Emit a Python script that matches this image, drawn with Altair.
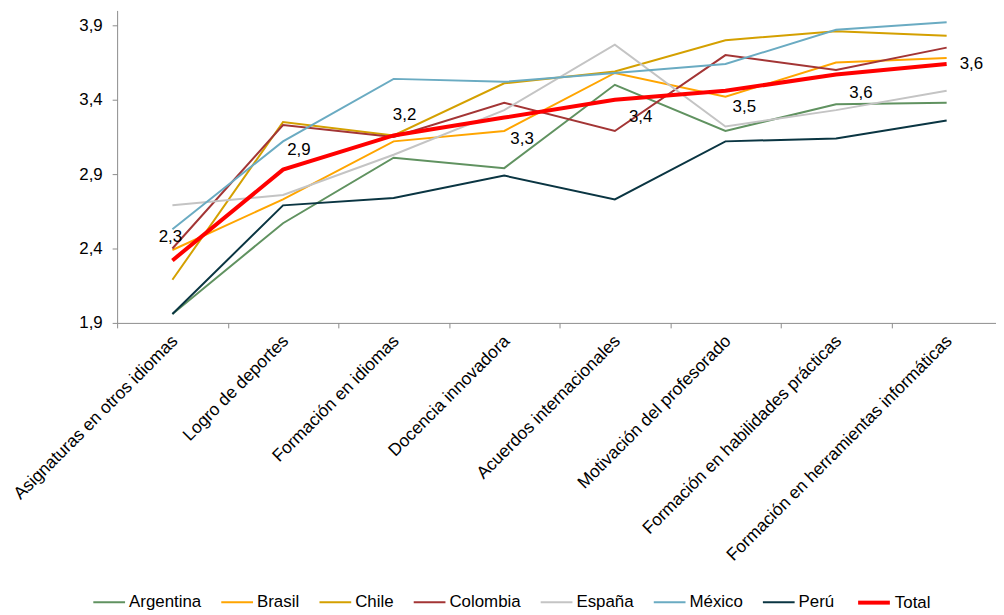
import pandas as pd
import altair as alt

# Categories on the x axis
categorias = [
    "Asignaturas en otros idiomas",
    "Logro de deportes",
    "Formación en idiomas",
    "Docencia innovadora",
    "Acuerdos internacionales",
    "Motivación del profesorado",
    "Formación en habilidades prácticas",
    "Formación en herramientas informáticas",
]

# Values per country
argentina = [1.96, 2.57, 3.01, 2.94, 3.50, 3.19, 3.37, 3.38]
brasil = [2.39, 2.73, 3.12, 3.19, 3.58, 3.42, 3.65, 3.68]
chile = [2.19, 3.25, 3.16, 3.51, 3.59, 3.80, 3.86, 3.83]
colombia = [2.40, 3.23, 3.15, 3.38, 3.19, 3.70, 3.60, 3.75]
espana = [2.69, 2.76, 3.03, 3.33, 3.77, 3.22, 3.33, 3.46]
mexico = [2.53, 3.12, 3.54, 3.52, 3.58, 3.64, 3.87, 3.92]
peru = [1.96, 2.69, 2.74, 2.89, 2.73, 3.12, 3.14, 3.26]
total = [2.32, 2.93, 3.16, 3.28, 3.40, 3.46, 3.57, 3.64]

paises = ["Argentina", "Brasil", "Chile", "Colombia", "España", "México", "Perú", "Total"]
valores = [argentina, brasil, chile, colombia, espana, mexico, peru, total]
y_ticks = [1.9, 2.4, 2.9, 3.4, 3.9]

# Styling
colores = ["#609260", "#FFA500", "#D4A000", "#A33535", "#C4C4C4", "#6AABC2", "#0A3542", "#FF0000"]
grosores = [2, 2, 2, 2, 2, 2, 2, 4]
# offsets of the Total data labels (dx, dy)
label_dx = [-2, 16, 11, 18, 26, 19, 25, 25]
label_dy = [-24, -20, -21, 22, 17, 16, 19, 0]

FONT = "Liberation Sans, Arial, sans-serif"
AXIS_GRAY = "#8C8C8C"

rows = []
for pais, serie in zip(paises, valores):
    for cat, v in zip(categorias, serie):
        rows.append({"Categoria": cat, "Pais": pais, "Valor": v})
df = pd.DataFrame(rows)
df["Etiqueta"] = df["Valor"].map(lambda v: f"{v:.1f}".replace(".", ","))

x_enc = alt.X(
    "Categoria:N",
    sort=categorias,
    scale=alt.Scale(range=[0, 892], paddingInner=0, paddingOuter=0),
    axis=alt.Axis(
        title=None, labelAngle=-45, labelFontSize=17.5, labelFont=FONT,
        labelColor="black", labelLimit=400, tickBand="extent", tickSize=5,
        domainColor=AXIS_GRAY, tickColor=AXIS_GRAY, labelPadding=4,
        labelOffset=-4,
    ),
)
y_enc = alt.Y(
    "Valor:Q",
    scale=alt.Scale(domain=[1.9, 4.0], nice=False, zero=False),
    axis=alt.Axis(
        title=None, values=y_ticks, grid=False, tickSize=5,
        labelExpr="replace(format(datum.value, '.1f'), '.', ',')",
        labelFontSize=17, labelFont=FONT, labelColor="black", labelPadding=10,
        domainColor=AXIS_GRAY, tickColor=AXIS_GRAY,
    ),
)

leyenda = alt.Legend(
    title=None, orient="none", direction="horizontal",
    legendX=-25, legendY=579, labelFontSize=17, labelFont=FONT,
    labelColor="black", symbolType="stroke", symbolSize=1024,
    columnPadding=16, labelOffset=3, padding=0,
)

base = alt.Chart(df).encode(
    x=x_enc,
    y=y_enc,
    color=alt.Color(
        "Pais:N", sort=paises,
        scale=alt.Scale(domain=paises, range=colores),
        legend=leyenda,
    ),
    strokeWidth=alt.StrokeWidth(
        "Pais:N", sort=paises,
        scale=alt.Scale(type="ordinal", domain=paises, range=grosores),
        legend=leyenda,
    ),
)

otros = base.transform_filter(alt.datum.Pais != "Total").mark_line()
linea_total = base.transform_filter(alt.datum.Pais == "Total").mark_line()

chart = otros + linea_total
for cat, dx, dy in zip(categorias, label_dx, label_dy):
    lbl = alt.Chart(df).transform_filter(
        (alt.datum.Pais == "Total") & (alt.datum.Categoria == cat)
    ).mark_text(dx=dx, dy=dy, fontSize=17, font=FONT, color="black").encode(
        x=alt.X("Categoria:N", sort=categorias),
        y="Valor:Q",
        text="Etiqueta:N",
    )
    chart += lbl

chart = chart.properties(
    width=886,
    height=315,
    autosize=alt.AutoSizeParams(type="none"),
    padding={"left": 110, "top": 0, "right": 0, "bottom": 291},
).configure_view(stroke=None)

chart.save("out.html", embed_options={"renderer": "svg", "actions": False})
